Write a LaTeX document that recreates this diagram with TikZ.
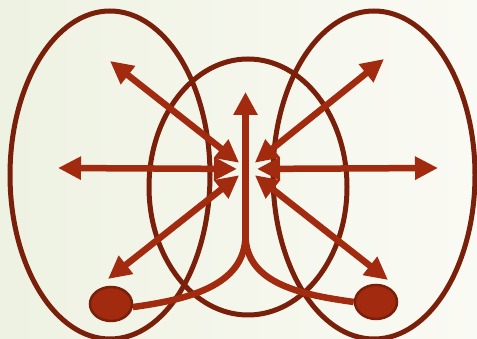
\documentclass[tikz,border=0pt]{standalone}
\usepackage{xcolor}
\definecolor{rustred}{HTML}{A12A0F}
\definecolor{darkrust}{HTML}{7A1F0A}
\definecolor{paleleft}{RGB}{238,242,226}
\definecolor{paleright}{RGB}{250,250,244}
\usepackage{tikz}
\usetikzlibrary{arrows.meta, shapes.geometric}

\begin{document}
\begin{tikzpicture}[
    x=1pt, y=1pt,
    ring/.style={draw=darkrust, line width=5pt},
    arrow/.style={{Triangle[length=23pt,width=22pt]}-{Triangle[length=23pt,width=22pt]},
                  draw=rustred, fill=rustred, line width=6.5pt, shorten <=10pt},
    uparrow/.style={-{Triangle[length=23pt,width=23pt]}, draw=rustred, fill=rustred, line width=6.5pt},
    branch/.style={draw=rustred, line width=6.5pt},
    blob/.style={draw=darkrust, fill=rustred, line width=2.5pt, ellipse,
                 minimum width=42pt, minimum height=34pt, inner sep=0pt}
  ]
    % background
    \shade[left color=paleleft, right color=paleright] (0,0) rectangle (477,339);
    \useasboundingbox (0,0) rectangle (477,339);

    % three sets
    \draw[ring] (110,164) ellipse [x radius=100, y radius=164];
    \draw[ring] (374,164) ellipse [x radius=101, y radius=164];
    \draw[ring] (248,152) ellipse [x radius=99, y radius=128];

    % hub and outer ends
    \coordinate (hub) at (247,170);
    \coordinate (west) at (58,171);
    \coordinate (east) at (438,171);
    \coordinate (nw) at (110,278);
    \coordinate (ne) at (384,280);
    \coordinate (sw) at (108,60);
    \coordinate (se) at (388,59);
    \coordinate (join) at (245.5,104);
    \coordinate (top) at (245.5,247);

    % the two points
    \node[blob] (lpt) at (111,35) {};
    \node[blob] (rpt) at (376,37) {};

    % curves into the stem
    \draw[branch] (lpt.-8) to[out=8, in=-90] (join);
    \draw[branch] (rpt.west) to[out=172, in=-90] (join);
    \draw[uparrow] (join) -- (top);

    % double arrows
    \draw[arrow] (hub) -- (west);
    \draw[arrow] (hub) -- (east);
    \draw[arrow] (hub) -- (nw);
    \draw[arrow] (hub) -- (ne);
    \draw[arrow] (hub) -- (sw);
    \draw[arrow] (hub) -- (se);
  \end{tikzpicture}
\end{document}
